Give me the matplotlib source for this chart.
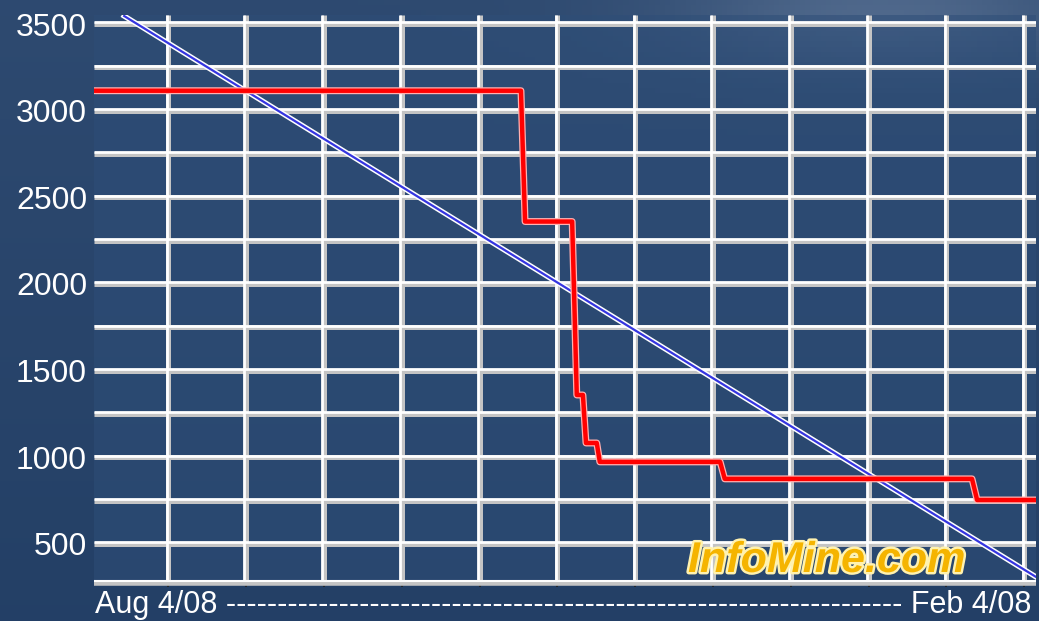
import numpy as np
import matplotlib
matplotlib.use('Agg')
import matplotlib.pyplot as plt
import matplotlib.patheffects as pe
from matplotlib.transforms import offset_copy

# 数据 (x = 距离起点的天数)
red_x = [0, 83.4, 84.2, 93.4, 94.3, 95.5, 96.1, 98.2, 98.8, 122.3, 123.2, 171.5, 172.5, 184]
red_y = [3115, 3115, 2360, 2360, 1359, 1359, 1082, 1082, 973, 973, 875, 875, 753, 753]
blue_x = [5.9, 184]
blue_y = [3546, 309]
y_ticks = [500, 1000, 1500, 2000, 2500, 3000, 3500]
y_grid = [500, 750, 1000, 1250, 1500, 1750, 2000, 2250, 2500, 2750, 3000, 3250, 3500]
x_grid = [14.5, 29.7, 44.9, 60.1, 75.3, 90.5, 105.7, 120.9, 136.1, 151.3, 166.5, 181.7]
x_label = 'Aug 4/08 ' + '-' * 66 + ' Feb 4/08'

plt.rcParams['font.family'] = ['Liberation Sans', 'DejaVu Sans']

fig = plt.figure(figsize=(10.39, 6.21), dpi=100)

# 背景 (深蓝色, 右上角较亮)
bg = fig.add_axes([0, 0, 1, 1])
gx, gy = np.meshgrid(np.linspace(0, 1, 200), np.linspace(0, 1, 120))
glow = np.exp(-((gx - 0.85) ** 2 / 0.04 + (gy - 0.98) ** 2 / 0.008))
base = np.array([0.14, 0.25, 0.40])
light = np.array([0.36, 0.45, 0.58])
img = base[None, None, :] + (light - base)[None, None, :] * glow[:, :, None] * 0.6
img = img + (gy[:, :, None] * 0.04)
bg.imshow(np.clip(img, 0, 1), aspect='auto', origin='lower', extent=[0, 1, 0, 1])
bg.axis('off')

ax = fig.add_axes([94 / 1039, 38 / 621, 942 / 1039, 568 / 621])
ax.patch.set_facecolor('#2e4e78')
ax.patch.set_alpha(0.55)
ax.set_xlim(0, 184)
ax.set_ylim(274, 3552)

# 网格 (白色+灰色双线)
up = offset_copy(ax.transData, fig=fig, x=0, y=1.6, units='dots')
left = offset_copy(ax.transData, fig=fig, x=-1.6, y=0, units='dots')
for v in y_grid:
    ax.plot([0, 184], [v, v], color='#c4c4c4', lw=3.6, zorder=1, solid_capstyle='butt')
    ax.plot([0, 184], [v, v], color='white', lw=2.0, zorder=1.1, transform=up, solid_capstyle='butt')
for v in x_grid:
    ax.plot([v, v], [274, 3552], color='#c4c4c4', lw=3.6, zorder=1, solid_capstyle='butt')
    ax.plot([v, v], [274, 3552], color='white', lw=2.0, zorder=1.1, transform=left, solid_capstyle='butt')

# 底部轴线
ax.plot([0, 184], [274, 274], color='#c4c4c4', lw=4, zorder=2, solid_capstyle='butt', clip_on=False)
ax.plot([0, 184], [274, 274], color='white', lw=1.5, zorder=2.1, transform=up, solid_capstyle='butt', clip_on=False)

# 折线
ax.plot(blue_x, blue_y, color='#3535e0', lw=1.6, zorder=3,
        path_effects=[pe.Stroke(linewidth=3.8, foreground='white'), pe.Normal()])
ax.plot(red_x, red_y, color='#ff0000', lw=3.2, zorder=4, solid_joinstyle='round',
        path_effects=[pe.Stroke(linewidth=5.0, foreground='#ffb0b0'), pe.Normal()])

for s in ax.spines.values():
    s.set_visible(False)
ax.set_yticks(y_ticks)
ax.set_yticklabels([str(v) for v in y_ticks])
ax.tick_params(axis='y', length=0, pad=5, labelsize=23, labelcolor='white')
ax.set_xticks(x_grid)
ax.set_xticklabels([])
ax.tick_params(axis='x', length=3, width=1.2, color='#222222', direction='out', pad=0)

# 水印
fig.text(688 / 1039, 1 - 561 / 621, 'InfoMine.com', fontsize=31, fontweight='bold', style='italic',
         color='#f5b400', va='center', ha='left', family=['Liberation Sans', 'DejaVu Sans'],
         path_effects=[pe.Stroke(linewidth=3.5, foreground='#fff2b0'), pe.Normal()])

fig.text(563 / 1039, 1 - 605 / 621, x_label, fontsize=22, color='white', ha='center', va='center')

plt.savefig('out.png', dpi=100)
plt.close()
